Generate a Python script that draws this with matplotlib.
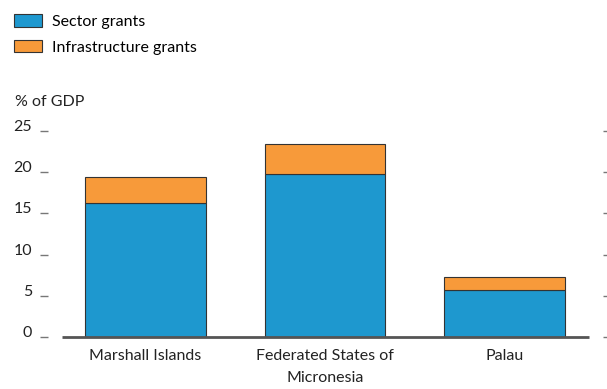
import matplotlib
matplotlib.use("Agg")
import matplotlib.pyplot as plt
import numpy as np

# Data
countries = ["Marshall Islands", "Federated States of\nMicronesia", "Palau"]
sector = [16.3, 19.8, 5.7]
infrastructure = [3.1, 3.65, 1.6]
yticks = [0, 5, 10, 15, 20, 25]

blue = "#1E98CF"
orange = "#F79A3A"
edge = "#333333"
txt = "#222222"
fs = 11.5

plt.rcParams["font.family"] = ["Lato", "DejaVu Sans"]
plt.rcParams["font.size"] = fs

fig = plt.figure(figsize=(6.07, 3.89), dpi=100)
W, H = 607, 389
# axes from x=48 to 603, y from 131 to 337 (pixels from top)
ax = fig.add_axes([48 / W, (H - 337) / H, (603 - 48) / W, (337 - 131) / H])

x = np.arange(len(countries))
b1 = ax.bar(x, sector, width=0.672, color=blue, edgecolor=edge, linewidth=0.8,
            label="Sector grants", zorder=2)
b2 = ax.bar(x, infrastructure, bottom=sector, width=0.672, color=orange,
            edgecolor=edge, linewidth=0.8, label="Infrastructure grants", zorder=2)

ax.set_xlim(-0.542, 2.548)
ax.set_ylim(0, 25)
ax.plot([-0.464, 2.47], [0, 0], color="#555555", linewidth=2, zorder=3,
        solid_capstyle="butt", clip_on=False)

for s in ax.spines.values():
    s.set_visible(False)

ax.set_yticks(yticks)
ax.set_yticklabels([str(t) for t in yticks])
ax.tick_params(axis="y", which="both", left=True, right=True, direction="out",
               length=6, width=1, color="#777777", pad=5.5, labelsize=fs,
               labelcolor=txt)
for lbl in ax.get_yticklabels():
    lbl.set_verticalalignment("baseline")
ax.set_xticks(x)
ax.set_xticklabels(countries, linespacing=1.65)
ax.tick_params(axis="x", length=0, pad=9, labelsize=fs, labelcolor=txt)

fig.text(15 / W, 1 - 102 / H, "% of GDP", fontsize=fs, va="center",
         ha="left", color=txt)

fig.legend(handles=[b1, b2], loc="upper left",
           bbox_to_anchor=(8 / W, 1 - 8 / H), frameon=False,
           handlelength=1.7, handleheight=0.85, handletextpad=0.65,
           labelspacing=0.65, fontsize=fs, borderaxespad=0)

fig.savefig("out.png", dpi=100)
